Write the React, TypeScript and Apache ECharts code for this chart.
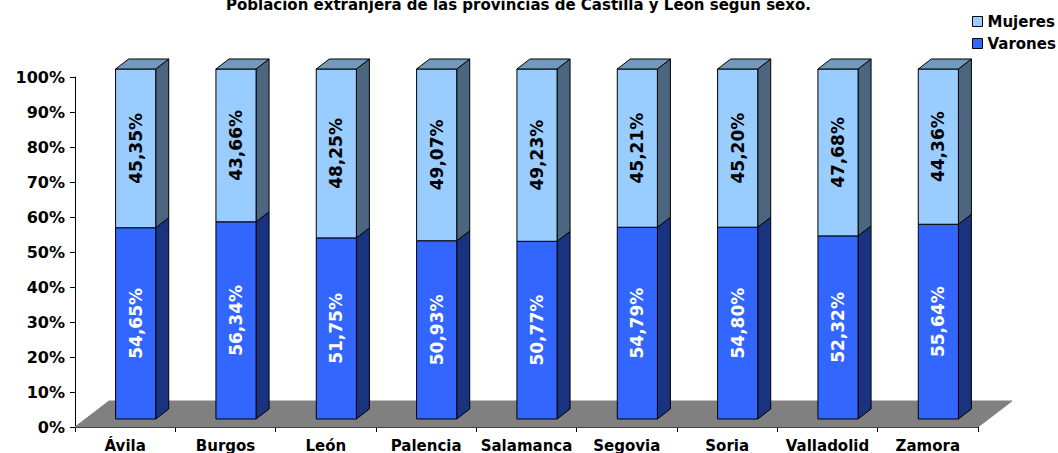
import React, { useEffect, useRef } from "react";
import * as echarts from "echarts";

const categories = ["Ávila", "Burgos", "León", "Palencia", "Salamanca", "Segovia", "Soria", "Valladolid", "Zamora"];
const varones = [54.65, 56.34, 51.75, 50.93, 50.77, 54.79, 54.8, 52.32, 55.64];
const mujeres = [45.35, 43.66, 48.25, 49.07, 49.23, 45.21, 45.2, 47.68, 44.36];
const yTicks = [0, 10, 20, 30, 40, 50, 60, 70, 80, 90, 100];

const FONT = "'DejaVu Sans', Verdana, sans-serif";
const FLOOR_DX = 34;
const FLOOR_DY = 26;
const BAR_OX = 10.5;
const BAR_OY = 8;
const BAR_DX = 13;
const BAR_DY = 10;

const fmt = (v: number) => v.toFixed(2).replace(".", ",") + "%";

function makeBarRender(front: string, side: string, top: string, textColor: string, isTop: boolean) {
  return (params: any, api: any) => {
    const idx = api.value(0);
    const start = api.value(1);
    const end = api.value(2);
    const val = api.value(3);
    const p0 = api.coord([idx, start]);
    const p1 = api.coord([idx, end]);
    const band = api.size([1, 0])[0];
    const w = band * 0.4;
    const cx = p0[0] + BAR_OX;
    const xl = cx - w / 2;
    const xr = cx + w / 2;
    const yb = p0[1] - BAR_OY;
    const yt = p1[1] - BAR_OY;
    const line = { stroke: "#000", lineWidth: 1 };
    const children: any[] = [
      {
        type: "polygon",
        shape: { points: [[xr, yt], [xr + BAR_DX, yt - BAR_DY], [xr + BAR_DX, yb - BAR_DY], [xr, yb]] },
        style: { fill: side, ...line },
      },
      {
        type: "rect",
        shape: { x: xl, y: yt, width: w, height: yb - yt },
        style: { fill: front, ...line },
      },
    ];
    if (isTop) {
      children.push({
        type: "polygon",
        shape: { points: [[xl, yt], [xr, yt], [xr + BAR_DX, yt - BAR_DY], [xl + BAR_DX, yt - BAR_DY]] },
        style: { fill: top, ...line },
      });
    }
    children.push({
      type: "text",
      x: cx,
      y: (yt + yb) / 2,
      rotation: Math.PI / 2,
      style: {
        text: fmt(val),
        x: 0,
        y: 0,
        fill: textColor,
        font: `bold 17px ${FONT}`,
        align: "center",
        verticalAlign: "middle",
      },
    });
    return { type: "group", children };
  };
}

export default function App() {
  const ref = useRef<HTMLDivElement>(null);
  useEffect(() => {
    document.body.style.margin = "0";
    const chart = echarts.init(ref.current!, null, { renderer: "svg" });
    const n = categories.length;
    chart.setOption({
      animation: false,
      backgroundColor: "#fff",
      title: {
        text: "Población extranjera de las provincias de Castilla y León según sexo.",
        left: 221,
        top: -8,
        textStyle: { fontFamily: FONT, fontSize: 15, fontWeight: "bold", color: "#000" },
      },
      legend: {
        data: ["Mujeres", "Varones"],
        orient: "vertical",
        left: 967,
        top: 8,
        icon: "rect",
        itemWidth: 10,
        itemHeight: 10,
        itemGap: 5,
        itemStyle: { borderColor: "#000", borderWidth: 1 },
        textStyle: { fontFamily: FONT, fontSize: 15, fontWeight: "bold", color: "#000", lineHeight: 17 },
      },
      grid: { left: 75, right: 80, top: 77, bottom: 25 },
      xAxis: {
        type: "category",
        data: categories,
        axisLine: { lineStyle: { color: "#000", width: 1 } },
        axisTick: { show: true, length: 5, interval: 0, lineStyle: { color: "#000" } },
        axisLabel: { interval: 0, margin: 11, fontFamily: FONT, fontSize: 15, fontWeight: "bold", color: "#000" },
      },
      yAxis: {
        type: "value",
        min: 0,
        max: 100,
        interval: 10,
        axisLine: { show: true, lineStyle: { color: "#000", width: 1 } },
        axisTick: { show: true, length: 5, lineStyle: { color: "#000" } },
        splitLine: { show: false },
        axisLabel: {
          margin: 10,
          fontFamily: FONT,
          fontSize: 16,
          fontWeight: "bold",
          color: "#000",
          formatter: (v: number) => (yTicks.includes(v) ? v + "%" : ""),
        },
      },
      series: [
        {
          type: "custom",
          name: "floor",
          z: 1,
          silent: true,
          data: [[0, 0]],
          encode: { x: 0, y: 1 },
          renderItem: (params: any, api: any) => {
            const band = api.size([1, 0])[0];
            const a = api.coord([0, 0]);
            const b = api.coord([n - 1, 0]);
            const x0 = a[0] - band / 2;
            const x1 = b[0] + band / 2;
            const y0 = a[1];
            return {
              type: "polygon",
              shape: { points: [[x0, y0], [x1, y0], [x1 + FLOOR_DX, y0 - FLOOR_DY], [x0 + FLOOR_DX, y0 - FLOOR_DY]] },
              style: { fill: "#808080", stroke: "#808080", lineWidth: 1 },
            };
          },
        },
        {
          type: "custom",
          name: "Varones",
          z: 2,
          itemStyle: { color: "#3366FF", borderColor: "#000", borderWidth: 1 },
          data: categories.map((c, i) => [i, 0, varones[i], varones[i]]),
          encode: { x: 0, y: [1, 2] },
          renderItem: makeBarRender("#3366FF", "#1A3380", "#2952CC", "#fff", false),
        },
        {
          type: "custom",
          name: "Mujeres",
          z: 3,
          itemStyle: { color: "#99CCFF", borderColor: "#000", borderWidth: 1 },
          data: categories.map((c, i) => [i, varones[i], varones[i] + mujeres[i], mujeres[i]]),
          encode: { x: 0, y: [1, 2] },
          renderItem: makeBarRender("#99CCFF", "#4D6680", "#7399BF", "#000", true),
        },
      ],
    });
    return () => chart.dispose();
  }, []);
  return <div ref={ref} style={{ width: 1058, height: 453 }} />;
}
